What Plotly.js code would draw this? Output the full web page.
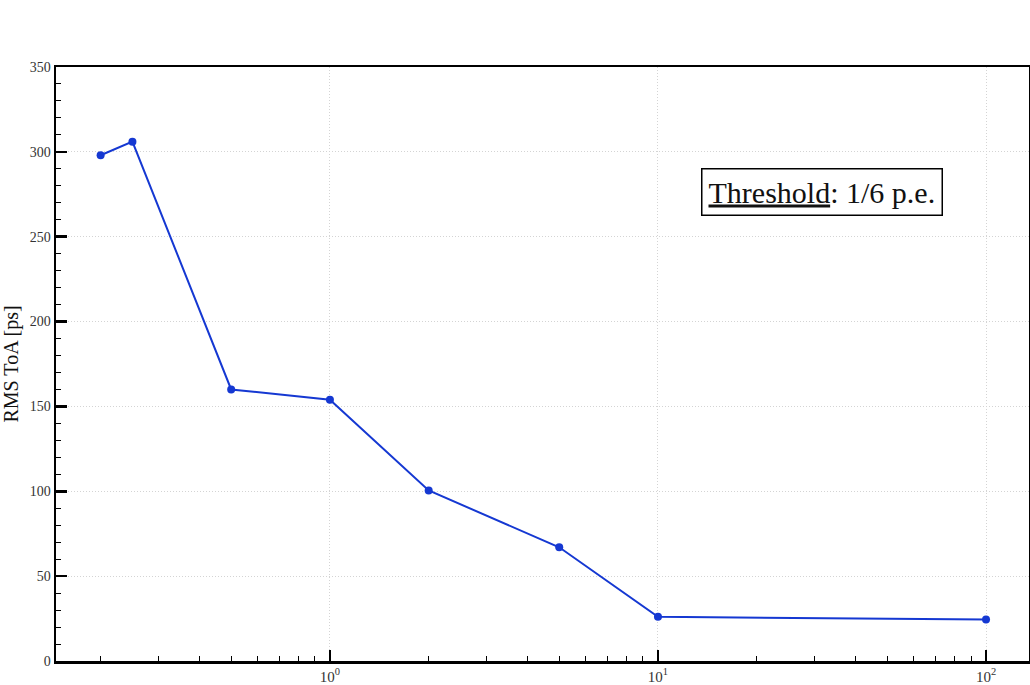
<!DOCTYPE html>
<html>
<head>
<meta charset="utf-8">
<script src="https://cdn.plot.ly/plotly-3.0.1.min.js"></script>
<style>html,body{margin:0;padding:0;background:#fff;}#chart{width:1030px;height:685px;}</style>
</head>
<body>
<div id="chart"></div>
<script>
const xValues = [0.2, 0.25, 0.5, 1, 2, 5, 10, 100];
const rmsToA = [298, 306, 160, 154, 100.5, 67, 26, 24.5];
const xTickVals = [1, 10, 100];
const xTickText = ['10<sup>0</sup>', '10<sup>1</sup>', '10<sup>2</sup>'];
const yTitle = 'RMS ToA [ps]';
const annotationText = '<u>Threshold</u>: 1/6 p.e.';

const trace = {
  x: xValues,
  y: rmsToA,
  type: 'scatter',
  mode: 'lines+markers',
  line: {color: '#1538d2', width: 2},
  marker: {color: '#1538d2', size: 8},
  showlegend: false
};

const serif = 'Liberation Serif, serif';

const layout = {
  width: 1030,
  height: 685,
  margin: {l: 56, r: 1, t: 67, b: 24, pad: 0},
  paper_bgcolor: '#fff',
  plot_bgcolor: '#fff',
  font: {family: serif, color: '#333', size: 14},
  xaxis: {
    type: 'log',
    range: [-0.835, 2.131],
    tickmode: 'array',
    tickvals: xTickVals,
    ticktext: xTickText,
    ticks: 'inside',
    ticklen: 11,
    tickwidth: 2.5,
    tickcolor: '#000',
    showline: true,
    linecolor: '#000',
    linewidth: 2.5,
    mirror: true,
    showgrid: true,
    gridcolor: '#d4d4d4',
    griddash: '1px,2px',
    gridwidth: 1,
    zeroline: false,
    tickfont: {size: 15, family: serif, color: '#333'},
    minor: {ticks: 'inside', ticklen: 5, tickwidth: 1, tickcolor: '#000', dtick: 'D1', showgrid: false}
  },
  yaxis: {
    range: [0, 350],
    dtick: 50,
    ticks: 'inside',
    ticklen: 11,
    tickwidth: 2.5,
    tickcolor: '#000',
    showline: true,
    linecolor: '#000',
    linewidth: 2.5,
    mirror: true,
    showgrid: true,
    gridcolor: '#d4d4d4',
    griddash: '1px,2px',
    gridwidth: 1,
    zeroline: false,
    tickfont: {size: 14, family: serif, color: '#333'},
    title: {text: yTitle, font: {size: 20, family: serif, color: '#111'}, standoff: 8},
    minor: {ticks: 'inside', ticklen: 5, tickwidth: 1, tickcolor: '#000', dtick: 10, showgrid: false}
  },
  annotations: [{
    text: annotationText,
    xref: 'paper', yref: 'paper',
    x: 0.787, y: 0.79,
    xanchor: 'center', yanchor: 'middle',
    showarrow: false,
    font: {size: 30, family: serif, color: '#111'},
    bordercolor: '#000',
    borderwidth: 1.5,
    borderpad: 6,
    bgcolor: '#fff'
  }]
};

Plotly.newPlot('chart', [trace], layout, {displayModeBar: false, staticPlot: true});
</script>
</body>
</html>
